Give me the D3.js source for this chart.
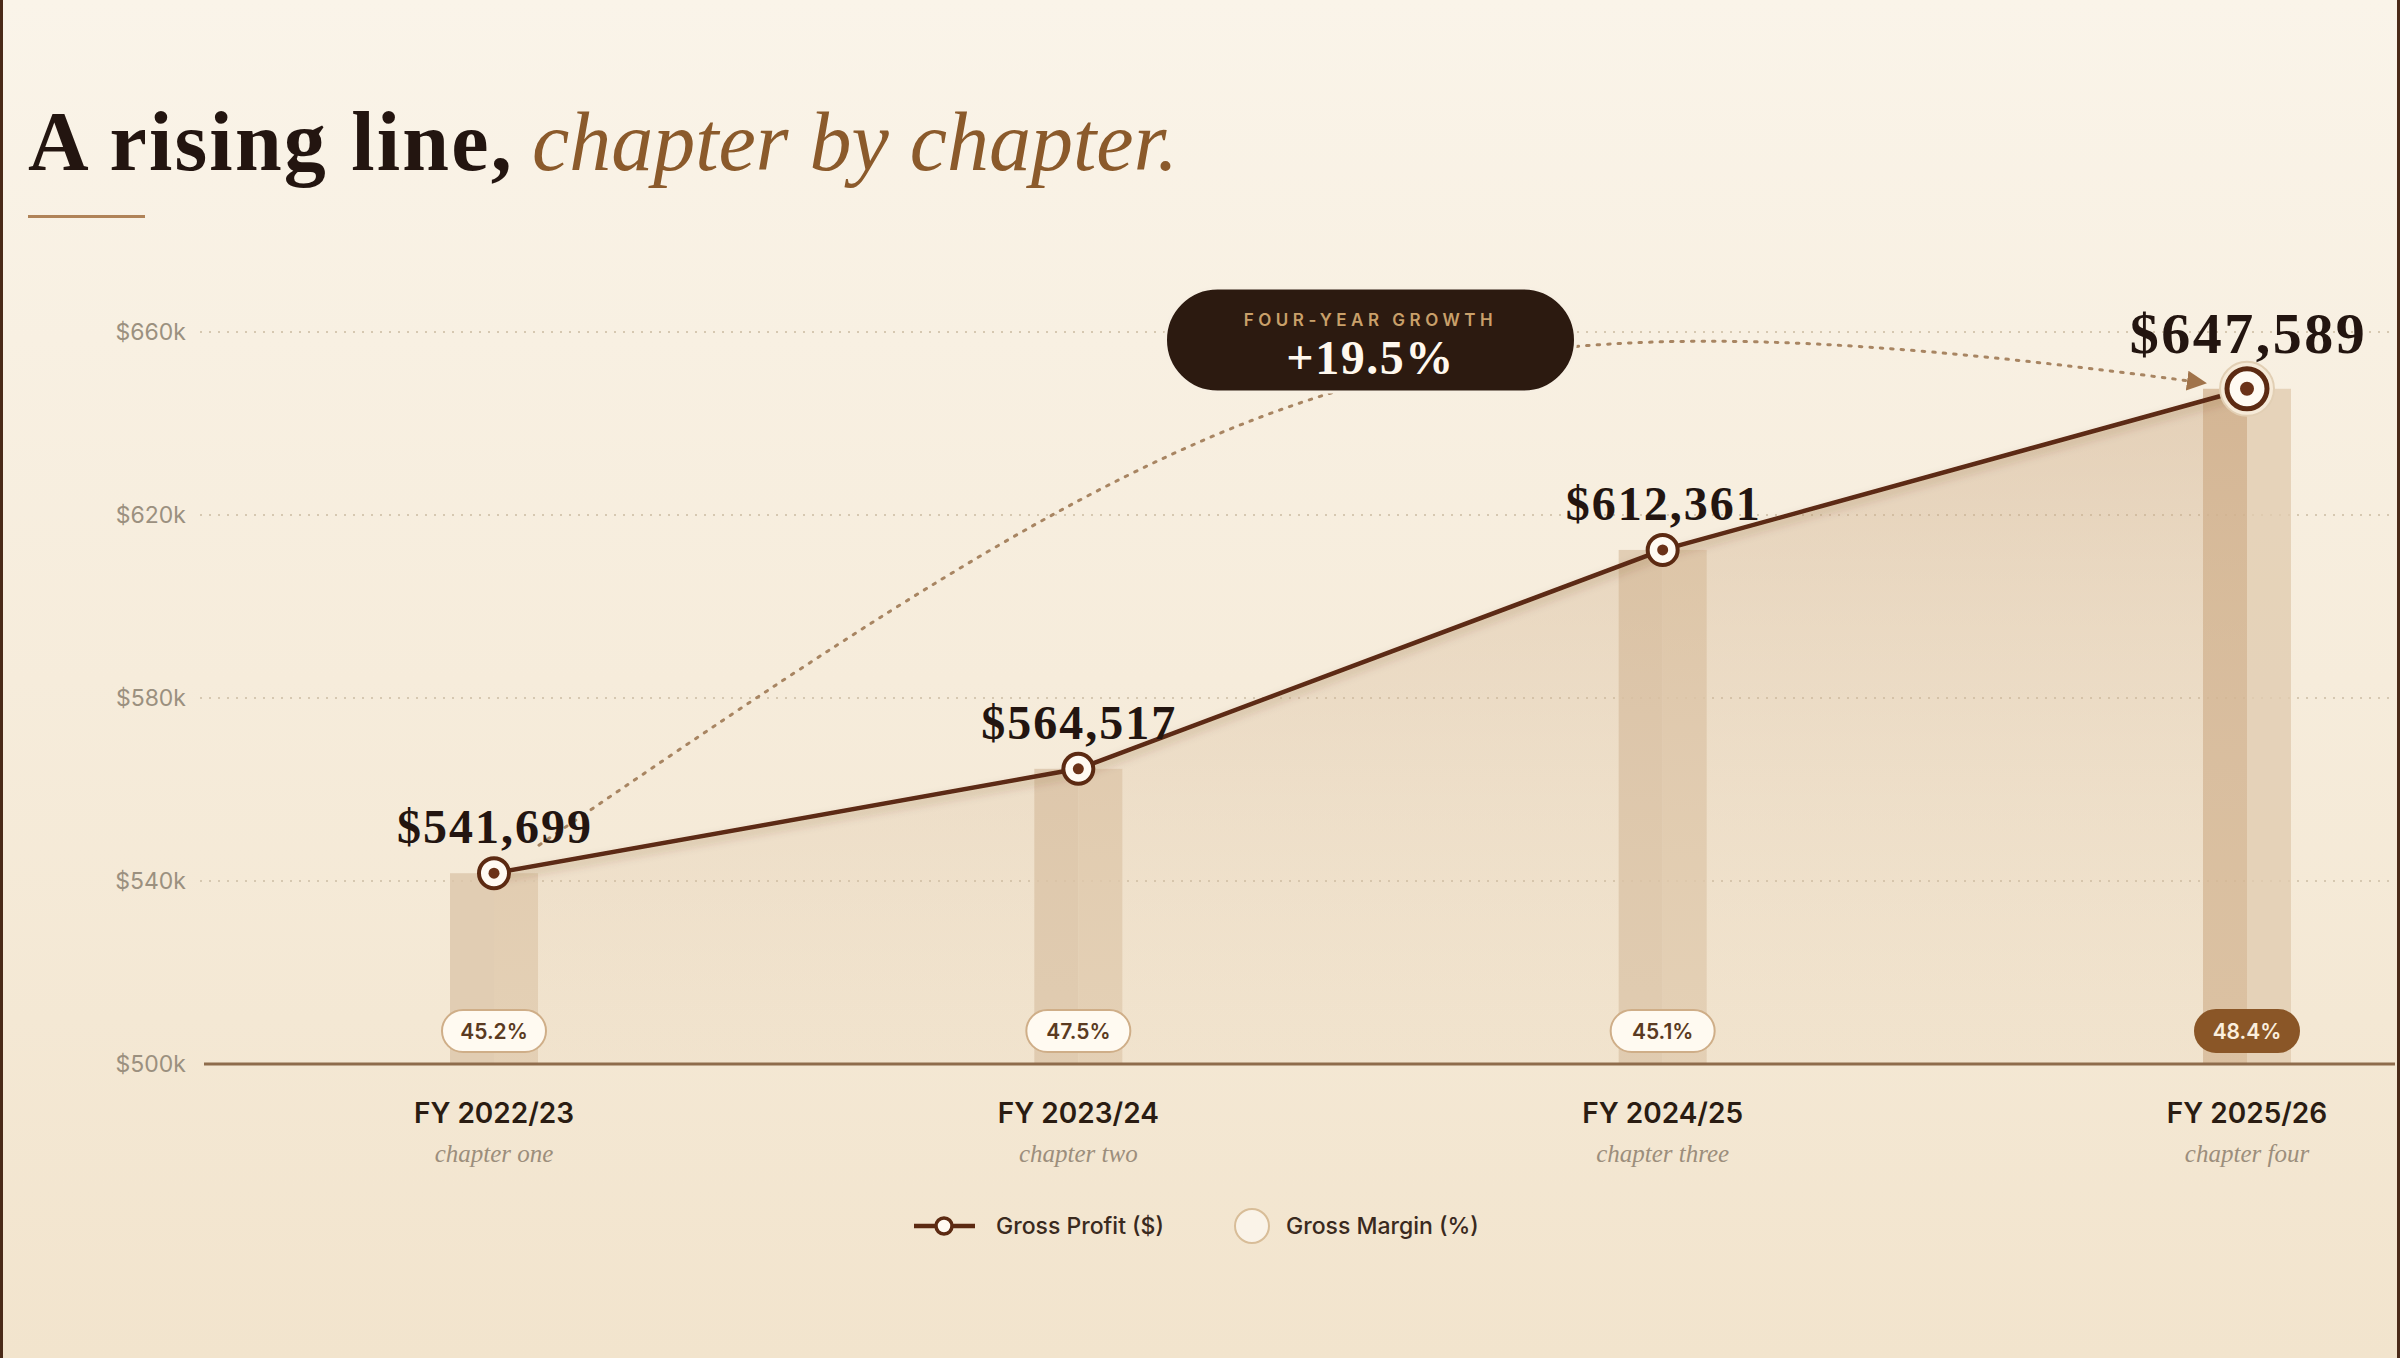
<!DOCTYPE html>
<html>
<head>
<meta charset="utf-8">
<script src="https://cdn.jsdelivr.net/npm/d3@7"></script>
<style>
  html, body { margin: 0; padding: 0; background: #f6ecdc; overflow: hidden; }
  svg { display: block; }
</style>
</head>
<body>
<script>
let width = 2400
let height = 1358

// data
const years = ['FY 2022/23', 'FY 2023/24', 'FY 2024/25', 'FY 2025/26']
const chapters = ['chapter one', 'chapter two', 'chapter three', 'chapter four']
const grossProfit = [541699, 564517, 612361, 647589]
const grossMargin = [45.2, 47.5, 45.1, 48.4]
const yTicks = [500000, 540000, 580000, 620000, 660000]

const serif = "'Liberation Serif', 'DejaVu Serif', Georgia, serif"
const sans = "Inter, 'Noto Sans', Roboto, sans-serif"

const rows = years.map((y, i) => ({ year: y, chapter: chapters[i], gp: grossProfit[i], gm: grossMargin[i], i }))

let svg = d3.select('body')
  .append('svg')
  .attr('width', width)
  .attr('height', height)

let defs = svg.append('defs')

let bg = defs.append('linearGradient').attr('id', 'bg').attr('x1', 0).attr('y1', 0).attr('x2', 0).attr('y2', 1)
bg.append('stop').attr('offset', '0%').attr('stop-color', '#faf4e9')
bg.append('stop').attr('offset', '100%').attr('stop-color', '#f2e4cd')

let areaGrad = defs.append('linearGradient').attr('id', 'areaGrad').attr('x1', 0).attr('y1', 0).attr('x2', 0).attr('y2', 1)
areaGrad.append('stop').attr('offset', '0%').attr('stop-color', '#c9a57f').attr('stop-opacity', 0.42)
areaGrad.append('stop').attr('offset', '100%').attr('stop-color', '#dcc3a3').attr('stop-opacity', 0.12)

let shadow = defs.append('filter').attr('id', 'shadow').attr('x', '-5%').attr('y', '-20%').attr('width', '110%').attr('height', '160%')
shadow.append('feDropShadow').attr('dx', 0).attr('dy', 5).attr('stdDeviation', 4)
  .attr('flood-color', '#5c2a12').attr('flood-opacity', 0.25)

defs.append('marker')
  .attr('id', 'arrow')
  .attr('viewBox', '0 0 10 10')
  .attr('refX', 8).attr('refY', 5)
  .attr('markerUnits', 'userSpaceOnUse')
  .attr('orient', 'auto')
  .attr('markerWidth', 20).attr('markerHeight', 20)
  .append('path')
  .attr('d', 'M0,0 L10,5 L0,10 Z')
  .attr('fill', '#a0734a')

svg.append('rect').attr('width', width).attr('height', height).attr('fill', 'url(#bg)')
// frame edges
svg.append('rect').attr('x', 0).attr('y', 0).attr('width', 3).attr('height', height).attr('fill', '#4a2a18')
svg.append('rect').attr('x', width - 3).attr('y', 0).attr('width', 3).attr('height', height).attr('fill', '#4a2a18')

// title
let title = svg.append('text')
  .attr('x', 28).attr('y', 170)
  .attr('font-family', serif)
  .attr('font-size', 84)
title.append('tspan').attr('font-weight', 700).attr('fill', '#231510').attr('letter-spacing', 2.2).text('A rising line,')
title.append('tspan').attr('font-style', 'italic').attr('fill', '#8b5a2b').attr('dx', 18).text('chapter by chapter.')

svg.append('rect').attr('x', 28).attr('y', 215).attr('width', 117).attr('height', 3).attr('fill', '#b08358')

// scales
let x = d3.scalePoint().domain(years).range([494, 2247])
let y = d3.scaleLinear().domain([500000, 660000]).range([1064, 332])
const plotLeft = 204
const plotRight = 2395

// grid
svg.append('g')
  .selectAll('line')
  .data(yTicks.slice(1))
  .join('line')
  .attr('x1', plotLeft - 4).attr('x2', plotRight)
  .attr('y1', d => y(d)).attr('y2', d => y(d))
  .attr('stroke', '#d6c8b1')
  .attr('stroke-width', 2)
  .attr('stroke-dasharray', '2 7')

// y axis
let yAxis = svg.append('g')
  .attr('transform', `translate(${plotLeft - 18},0)`)
  .call(d3.axisLeft(y).tickValues(yTicks).tickSize(0).tickPadding(0).tickFormat(d => '$' + d / 1000 + 'k'))
yAxis.select('.domain').remove()
yAxis.selectAll('text')
  .attr('font-family', sans)
  .attr('font-size', 23)
  .attr('fill', '#9b907f')

// bars behind points
const barW = 88
let bars = svg.append('g')
bars.selectAll('rect.l')
  .data(rows)
  .join('rect')
  .attr('class', 'l')
  .attr('x', d => x(d.year) - barW / 2)
  .attr('y', d => y(d.gp))
  .attr('width', barW / 2)
  .attr('height', d => y(500000) - y(d.gp))
  .attr('fill', d => d.i === rows.length - 1 ? '#d4b695' : '#dcc6aa')
  .attr('opacity', 0.8)
bars.selectAll('rect.r')
  .data(rows)
  .join('rect')
  .attr('class', 'r')
  .attr('x', d => x(d.year))
  .attr('y', d => y(d.gp))
  .attr('width', barW / 2)
  .attr('height', d => y(500000) - y(d.gp))
  .attr('fill', '#e1ccb0')
  .attr('opacity', 0.8)

// area
let area = d3.area()
  .x(d => x(d.year))
  .y0(y(500000))
  .y1(d => y(d.gp))
svg.append('path')
  .datum(rows)
  .attr('d', area)
  .attr('fill', 'url(#areaGrad)')

// baseline
svg.append('line')
  .attr('x1', plotLeft).attr('x2', plotRight)
  .attr('y1', y(500000)).attr('y2', y(500000))
  .attr('stroke', '#8e6c4c')
  .attr('stroke-width', 3)

// growth arc
let p0 = [x(years[0]) + 45, y(grossProfit[0]) - 28]
let p3 = [x(years[years.length - 1]) - 44, y(grossProfit[grossProfit.length - 1]) - 6]
let dx = p3[0] - p0[0]
let dy = p0[1] - p3[1]
let arc = d3.path()
arc.moveTo(p0[0], p0[1])
arc.bezierCurveTo(p0[0] + 0.43 * dx, p0[1] - 1.06 * dy, p0[0] + 0.52 * dx, p0[1] - 1.23 * dy, p3[0], p3[1])
svg.append('path')
  .attr('d', arc.toString())
  .attr('fill', 'none')
  .attr('stroke', '#a88562')
  .attr('stroke-width', 3)
  .attr('stroke-linecap', 'round')
  .attr('stroke-dasharray', '2.5 8')
  .attr('marker-end', 'url(#arrow)')

// line
let line = d3.line()
  .x(d => x(d.year))
  .y(d => y(d.gp))
svg.append('path')
  .datum(rows)
  .attr('d', line)
  .attr('fill', 'none')
  .attr('stroke', '#5c2a12')
  .attr('stroke-width', 4.5)
  .attr('stroke-linejoin', 'round')
  .attr('filter', 'url(#shadow)')

// markers
let last = rows.length - 1
let marks = svg.append('g').selectAll('g').data(rows).join('g')
  .attr('transform', d => `translate(${x(d.year)},${y(d.gp)})`)
marks.filter(d => d.i === last).append('circle')
  .attr('r', 27)
  .attr('fill', '#f6ead8')
  .attr('stroke', '#e2cfb4')
  .attr('stroke-width', 2)
marks.append('circle')
  .attr('r', d => d.i === last ? 20 : 15)
  .attr('fill', '#fffaf2')
  .attr('stroke', '#5c2a12')
  .attr('stroke-width', d => d.i === last ? 5 : 4)
marks.append('circle')
  .attr('r', d => d.i === last ? 7 : 5.5)
  .attr('fill', '#6b3218')

// value labels
const fmt = d3.format(',')
svg.append('g').selectAll('text').data(rows).join('text')
  .attr('x', d => x(d.year) + (d.i === last ? 1.5 : 1))
  .attr('y', d => y(d.gp) - (d.i === last ? 36 : 30))
  .attr('text-anchor', 'middle')
  .attr('font-family', serif)
  .attr('font-weight', 700)
  .attr('font-size', d => d.i === last ? 58 : 48)
  .attr('letter-spacing', d => d.i === last ? 2.5 : 2)
  .attr('fill', '#231510')
  .text(d => '$' + fmt(d.gp))

// margin pills
const pillW = 104
const pillH = 42
const pillY = 1031
let pills = svg.append('g').selectAll('g').data(rows).join('g')
  .attr('transform', d => `translate(${x(d.year)},${pillY})`)
pills.append('rect')
  .attr('x', -pillW / 2).attr('y', -pillH / 2)
  .attr('width', pillW).attr('height', pillH)
  .attr('rx', pillH / 2)
  .attr('fill', d => d.i === last ? '#8a5627' : '#fffaf1')
  .attr('stroke', d => d.i === last ? '#8a5627' : '#cfae88')
  .attr('stroke-width', 2)
pills.append('text')
  .attr('text-anchor', 'middle')
  .attr('dy', '0.36em')
  .attr('font-family', sans)
  .attr('font-weight', 600)
  .attr('font-size', 21)
  .attr('fill', d => d.i === last ? '#fbeedd' : '#5a3a22')
  .text(d => d.gm.toFixed(1) + '%')

// x labels
let xl = svg.append('g').selectAll('g').data(rows).join('g')
  .attr('transform', d => `translate(${x(d.year)},0)`)
xl.append('text')
  .attr('y', 1123)
  .attr('text-anchor', 'middle')
  .attr('font-family', sans)
  .attr('font-weight', 600)
  .attr('font-size', 28)
  .attr('fill', '#2a1c12')
  .text(d => d.year)
xl.append('text')
  .attr('y', 1162)
  .attr('text-anchor', 'middle')
  .attr('font-family', serif)
  .attr('font-style', 'italic')
  .attr('font-size', 25)
  .attr('fill', '#9c8e7c')
  .text(d => d.chapter)

// growth badge
let growth = grossProfit[grossProfit.length - 1] / grossProfit[0] - 1
let bx = (x(years[1]) + x(years[2])) / 2
let by = y(660000) + 8
let badge = svg.append('g').attr('transform', `translate(${bx},${by})`)
badge.append('rect')
  .attr('x', -205).attr('y', -52)
  .attr('width', 410).attr('height', 104)
  .attr('rx', 52)
  .attr('fill', '#2c1a10')
  .attr('stroke', '#f7efe2')
  .attr('stroke-width', 3)
badge.append('text')
  .attr('y', -14)
  .attr('text-anchor', 'middle')
  .attr('font-family', sans)
  .attr('font-weight', 600)
  .attr('font-size', 17)
  .attr('letter-spacing', 4.5)
  .attr('fill', '#c9a06a')
  .text('FOUR-YEAR GROWTH')
badge.append('text')
  .attr('y', 34)
  .attr('text-anchor', 'middle')
  .attr('font-family', serif)
  .attr('font-weight', 700)
  .attr('font-size', 48)
  .attr('letter-spacing', 1.5)
  .attr('fill', '#fff8ee')
  .text('+' + (growth * 100).toFixed(1) + '%')

// legend
let legend = svg.append('g').attr('transform', 'translate(0,1226)')
legend.append('line')
  .attr('x1', 914).attr('x2', 975)
  .attr('stroke', '#5c2a12').attr('stroke-width', 4.5)
legend.append('circle')
  .attr('cx', 944).attr('r', 8)
  .attr('fill', '#fffaf2').attr('stroke', '#5c2a12').attr('stroke-width', 3.5)
legend.append('text')
  .attr('x', 996).attr('dy', '0.35em')
  .attr('font-family', sans).attr('font-weight', 500).attr('font-size', 23)
  .attr('fill', '#3a2a1e')
  .text('Gross Profit ($)')
legend.append('circle')
  .attr('cx', 1252).attr('r', 17)
  .attr('fill', '#faf3e8').attr('stroke', '#d8bd98').attr('stroke-width', 2)
legend.append('text')
  .attr('x', 1286).attr('dy', '0.35em')
  .attr('font-family', sans).attr('font-weight', 500).attr('font-size', 23)
  .attr('fill', '#3a2a1e')
  .text('Gross Margin (%)')
</script>
</body>
</html>
